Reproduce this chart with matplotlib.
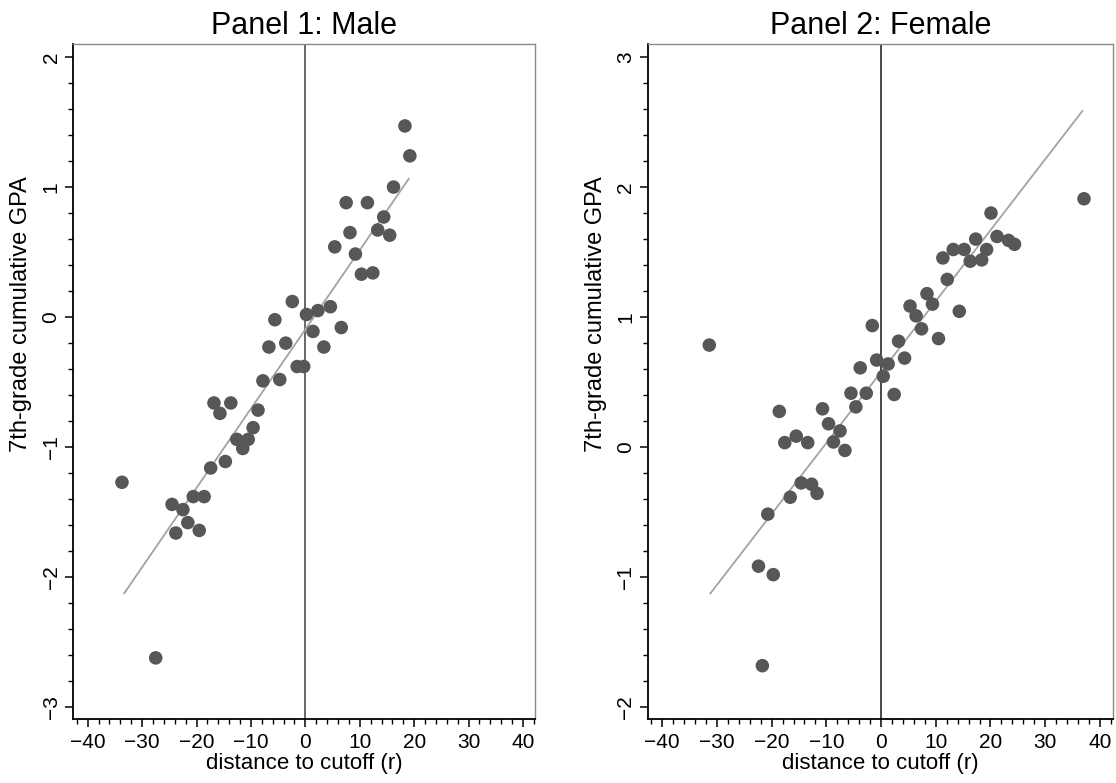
import matplotlib
matplotlib.use("Agg")
import matplotlib.pyplot as plt
from matplotlib.ticker import MultipleLocator

plt.rcParams['font.family'] = ['Liberation Sans', 'DejaVu Sans']

# ---------------- data ----------------
male_x = [18.3, 19.2, 16.2, 7.5, 11.4, 14.4, 13.3, 15.5, 8.2, 5.4, 9.2, 10.3, 12.4,
          -2.4, -5.6, 0.2, 2.3, 4.6, 1.4, 6.6, -6.7, -3.6, 3.4, -1.5, -0.3, -7.8,
          -4.7, -16.8, -13.7, -15.7, -8.7, -9.6, -12.6, -10.5, -11.5, -17.4, -14.7,
          -33.7, -24.5, -22.5, -20.6, -18.6, -21.6, -23.8, -19.5, -27.5]
male_y = [1.47, 1.24, 1.00, 0.88, 0.88, 0.77, 0.67, 0.63, 0.65, 0.54, 0.485, 0.33, 0.34,
          0.12, -0.02, 0.02, 0.05, 0.08, -0.11, -0.08, -0.23, -0.20, -0.23, -0.38, -0.38,
          -0.49, -0.48, -0.66, -0.66, -0.74, -0.715, -0.85, -0.94, -0.94, -1.01, -1.16,
          -1.11, -1.27, -1.44, -1.48, -1.38, -1.38, -1.58, -1.66, -1.64, -2.62]
male_fit_x = [-33.4, 19.1]
male_fit_y = [-2.13, 1.07]

female_x = [37.1, 20.1, 17.3, 21.2, 23.3, 24.4, 19.3, 13.2, 15.2, 11.3, 16.3, 18.4,
            12.1, 8.4, 9.4, 5.3, 6.4, 7.4, 14.3, 10.5, -1.6, 3.2, -0.8, 1.3, 4.3, 0.4,
            -3.8, 2.4, -5.5, -2.7, -4.6, -10.7, -18.6, -9.6, -7.5, -8.7, -6.6, -17.6,
            -15.5, -13.4, -14.6, -12.7, -11.7, -16.6, -20.7, -22.4, -19.7, -31.4, -21.7]
female_y = [1.91, 1.80, 1.60, 1.62, 1.59, 1.56, 1.52, 1.52, 1.52, 1.455, 1.43, 1.44,
            1.29, 1.18, 1.10, 1.085, 1.01, 0.91, 1.045, 0.835, 0.935, 0.815, 0.67, 0.64,
            0.685, 0.545, 0.61, 0.405, 0.415, 0.415, 0.31, 0.295, 0.275, 0.18, 0.125,
            0.04, -0.025, 0.035, 0.085, 0.035, -0.275, -0.285, -0.355, -0.385, -0.515,
            -0.915, -0.98, 0.785, -1.68]
female_fit_x = [-31.3, 36.9]
female_fit_y = [-1.13, 2.59]

titles = ["Panel 1: Male", "Panel 2: Female"]
xlabel = "distance to cutoff (r)"
ylabel = "7th-grade cumulative GPA"
xticks = [-40, -30, -20, -10, 0, 10, 20, 30, 40]
male_yticks = [-3, -2, -1, 0, 1, 2]
female_yticks = [-2, -1, 0, 1, 2, 3]

# ---------------- figure ----------------
W, H = 1116, 783
fig = plt.figure(figsize=(W / 100, H / 100), dpi=100)

def px_axes(l, r, t, b):
    return fig.add_axes([l / W, 1 - b / H, (r - l) / W, (b - t) / H])

ax1 = px_axes(73, 535, 44, 719)
ax2 = px_axes(648, 1113, 44, 719)

dot_color = '#575757'
fit_color = '#a3a3a3'

panels = [
    (ax1, male_x, male_y, male_fit_x, male_fit_y, male_yticks, (-42.7, 42.2), (-3.09, 2.10), '#686868', -0.089),
    (ax2, female_x, female_y, female_fit_x, female_fit_y, female_yticks, (-42.6, 42.4), (-2.09, 3.10), '#484848', -0.089),
]

for i, (ax, xs, ys, fx, fy, yt, xl, yl, vcol, lx) in enumerate(panels):
    ax.axvline(0, color=vcol, lw=1.4, zorder=1)
    ax.plot(fx, fy, color=fit_color, lw=1.3, zorder=2, solid_capstyle='butt')
    ax.scatter(xs, ys, s=95, color=dot_color, edgecolors='none', zorder=3)
    ax.set_xlim(*xl)
    ax.set_ylim(*yl)
    ax.set_xticks(xticks)
    ax.set_yticks(yt)
    ax.xaxis.set_minor_locator(MultipleLocator(2))
    ax.yaxis.set_minor_locator(MultipleLocator(0.2))
    ax.tick_params(axis='both', which='major', direction='out', length=6, width=1.1,
                   labelsize=15, colors='black')
    ax.tick_params(axis='both', which='minor', direction='out', length=3.5, width=1.0)
    ax.tick_params(axis='x', pad=4)
    ax.tick_params(axis='y', pad=3)
    for lab in ax.get_yticklabels():
        lab.set_rotation(90)
        lab.set_va('center')
    ax.spines['left'].set_linewidth(1.3)
    ax.spines['bottom'].set_linewidth(1.3)
    for s in ('top', 'right'):
        ax.spines[s].set_color('#8a8a8a')
        ax.spines[s].set_linewidth(1.0)
    ax.set_title(titles[i], fontsize=22, pad=7)
    ax.set_xlabel(xlabel, fontsize=16, labelpad=1)
    ax.set_ylabel(ylabel, fontsize=17, labelpad=5)
    ax.yaxis.set_label_coords(lx, 0.60)

fig.savefig("out.png", dpi=100, facecolor='white')
